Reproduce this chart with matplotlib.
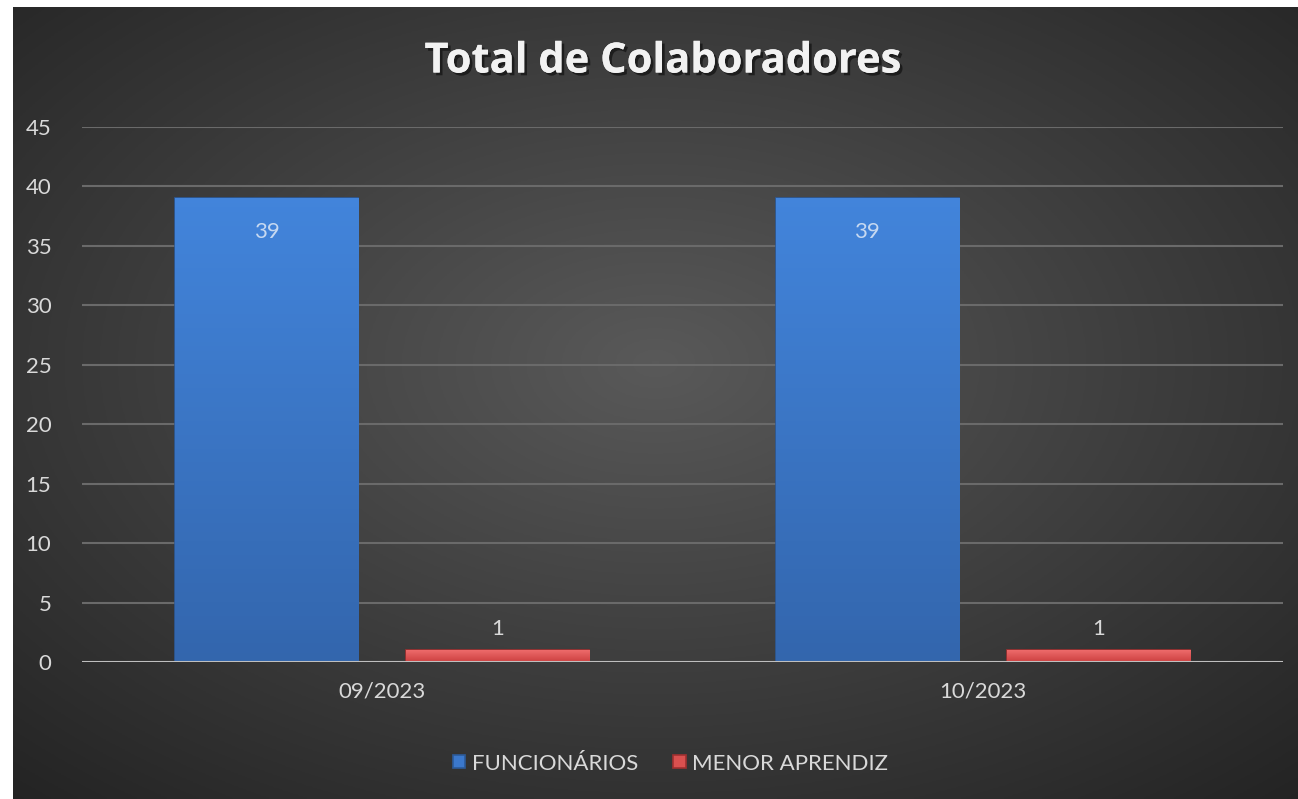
import numpy as np
import matplotlib
matplotlib.use('Agg')
import matplotlib.pyplot as plt
import matplotlib.patheffects as pe

# chart data
categories = ['09/2023', '10/2023']
funcionarios = [39, 39]
menor_aprendiz = [1, 1]
series_names = ['FUNCIONÁRIOS', 'MENOR APRENDIZ']
y_ticks = [0, 5, 10, 15, 20, 25, 30, 35, 40, 45]

plt.rcParams['font.family'] = ['Lato', 'DejaVu Sans']

W, H = 1298, 799
fig = plt.figure(figsize=(W / 100, H / 100), dpi=100)
fig.patch.set_facecolor('white')

# dark radial gradient background
bg = fig.add_axes([13 / W, 0, 1 - 13 / W, 1 - 7 / H])
bg.set_axis_off()
yy, xx = np.mgrid[-1:1:300j, -1:1:400j]
r = np.sqrt(xx ** 2 + (yy + 0.1) ** 2) / np.sqrt(2)
shade = 0.35 - 0.2 * r
bg.imshow(np.dstack([shade, shade, shade]), aspect='auto', extent=[0, 1, 0, 1])
bg.set_xlim(0, 1)
bg.set_ylim(0, 1)

ax = fig.add_axes([82 / W, 1 - 662 / H, (1283 - 82) / W, (662 - 127) / H])
ax.patch.set_alpha(0)

x = np.arange(len(categories))
bw = 0.305
off = (bw + 0.08) / 2
b1 = ax.bar(x - off, funcionarios, bw, color='#3b78cc', zorder=3)
b2 = ax.bar(x + off, menor_aprendiz, bw, color='#d9504f', zorder=3)


def shade_bars(bars, top, bottom, edge):
    grad = np.linspace(0, 1, 100)[:, None]
    c = np.array(top)[None, None, :] * (1 - grad[..., None]) + np.array(bottom)[None, None, :] * grad[..., None]
    c = np.repeat(c, 2, axis=1)
    for b in bars:
        x0, w, h = b.get_x(), b.get_width(), b.get_height()
        im = ax.imshow(c, extent=[x0, x0 + w, 0, h], aspect='auto', zorder=4)
        im.set_clip_path(b)
        b.set_edgecolor(edge)
        b.set_linewidth(1.2)


shade_bars(b1, (0.26, 0.52, 0.86), (0.20, 0.40, 0.68), '#2c5a99')
shade_bars(b2, (0.93, 0.42, 0.42), (0.80, 0.25, 0.25), '#a03030')

for b, v in zip(b1, funcionarios):
    ax.text(b.get_x() + b.get_width() / 2, v - 2.8, str(v), ha='center',
            va='center', fontsize=16, color='#c6d9f1', zorder=6)
for b, v in zip(b2, menor_aprendiz):
    ax.text(b.get_x() + b.get_width() / 2, v + 1.8, str(v), ha='center',
            va='center', fontsize=16, color='#d9d9d9', zorder=6)

ax.set_xlim(-0.5, 1.5)
ax.set_ylim(0, 45)
ax.set_yticks(y_ticks)
ax.set_xticks(x)
ax.set_xticklabels(categories)
ax.tick_params(colors='#d9d9d9', labelsize=16, length=0)
ax.tick_params(axis='y', pad=22)
ax.tick_params(axis='x', pad=14)
ax.grid(axis='y', color='#6a6a6a', linewidth=1.5, zorder=0)
for s in ax.spines.values():
    s.set_visible(False)
ax.axhline(0, color='#bfbfbf', linewidth=2.2, zorder=5)

fig.text(663 / W, 1 - 62 / H, 'Total de Colaboradores', ha='center', va='center',
         fontsize=30, fontweight='bold', color='#f2f2f2', family=['Open Sans', 'DejaVu Sans'],
         path_effects=[pe.withSimplePatchShadow(offset=(2, -2), shadow_rgbFace='black', alpha=0.5), pe.Normal()])

leg = ax.legend([b1, b2], series_names, loc='center', bbox_to_anchor=(0.49, -0.19),
                ncol=2, frameon=False, fontsize=16, handlelength=0.55, handleheight=0.55,
                handletextpad=0.3, columnspacing=1.6, labelcolor='#d9d9d9')

fig.savefig('out.png', dpi=100)
